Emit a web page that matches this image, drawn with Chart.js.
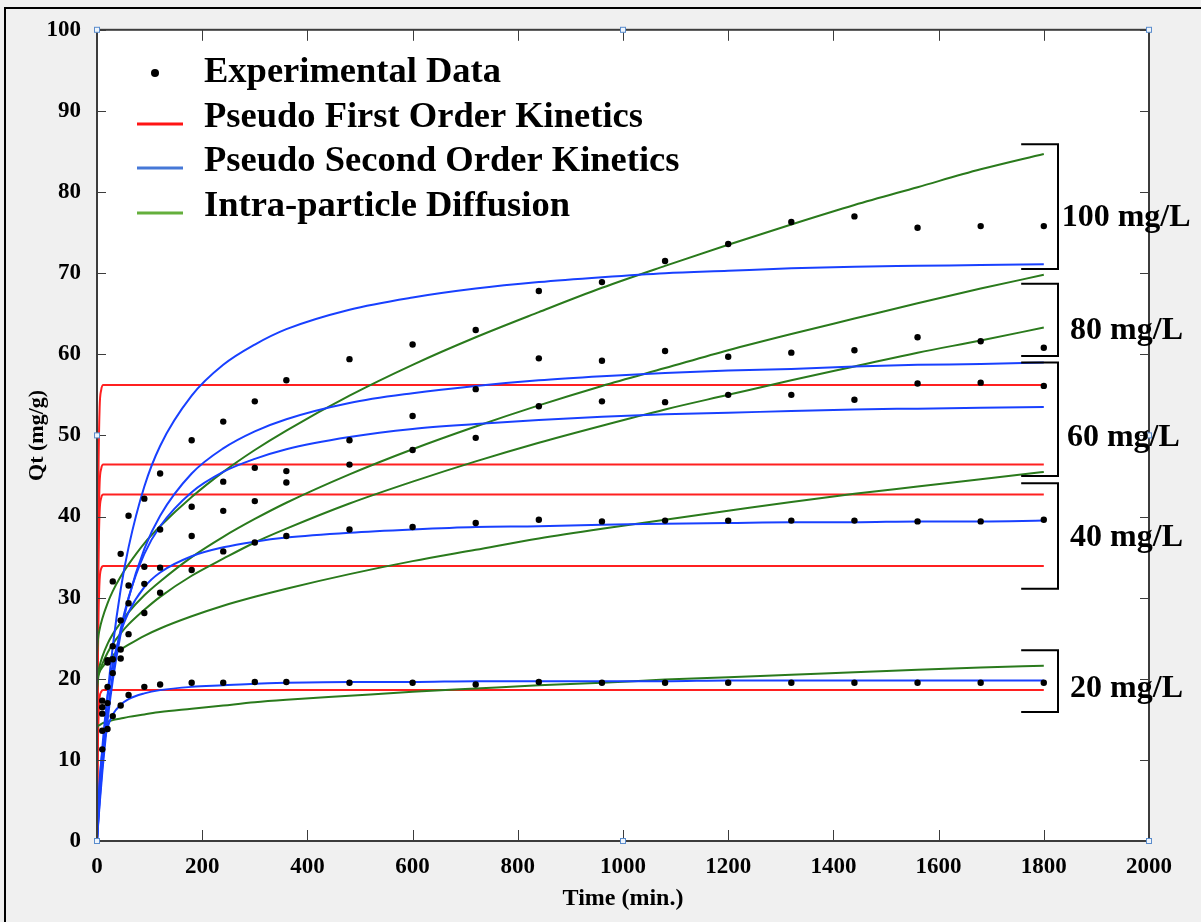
<!DOCTYPE html>
<html>
<head>
<meta charset="utf-8">
<script src="https://cdn.jsdelivr.net/npm/chart.js@4.4.1/dist/chart.umd.min.js"></script>
<style>
  html, body { margin: 0; padding: 0; background: #f0f0f0; }
  #wrap { width: 1201px; height: 922px; }
</style>
</head>
<body>
<div id="wrap"><canvas id="grafica" width="1201" height="922"></canvas></div>
<script>
// datos experimentales (tiempo en min, Qt en mg/g)
const tiempoExp = [10, 20, 30, 45, 60, 90, 120, 180, 240, 300, 360, 480, 600, 720, 840, 960, 1080, 1200, 1320, 1440, 1560, 1680, 1800];
const exp100 = [17.3, 22.3, 32.0, 35.4, 40.1, 42.2, 45.3, 49.4, 51.7, 54.2, 56.8, 59.4, 61.2, 63.0, 67.8, 68.9, 71.5, 73.6, 76.3, 77.0, 75.6, 75.8, 75.8];
const exp80  = [16.5, 22.0, 24.0, 27.2, 31.5, 33.8, 38.4, 41.2, 44.3, 46.0, 45.6, 49.4, 52.4, 55.7, 59.5, 59.2, 60.4, 59.7, 60.2, 60.5, 62.1, 61.6, 60.8];
const exp60  = [15.7, 19.0, 22.4, 23.6, 29.3, 31.7, 33.7, 37.6, 40.7, 41.9, 44.2, 46.4, 48.2, 49.7, 53.6, 54.2, 54.1, 55.0, 55.0, 54.4, 56.4, 56.5, 56.1];
const exp40  = [13.6, 17.0, 20.7, 22.5, 25.5, 28.1, 30.6, 33.4, 35.7, 36.8, 37.6, 38.4, 38.7, 39.2, 39.6, 39.4, 39.5, 39.5, 39.5, 39.5, 39.4, 39.4, 39.6];
const exp20  = [11.3, 13.8, 15.4, 16.7, 18.0, 19.0, 19.3, 19.5, 19.5, 19.6, 19.6, 19.5, 19.5, 19.3, 19.6, 19.5, 19.5, 19.5, 19.5, 19.5, 19.5, 19.5, 19.5];

// pseudo primer orden (sube casi vertical y se queda plano)
const tiempoPFO = [0, 1, 2, 3, 5, 8, 12, 1800];
const pfo100 = [0, 25.3, 39.3, 46.6, 53.4, 55.6, 56.2, 56.2];
const pfo80  = [0, 20.9, 32.5, 38.5, 44.1, 45.9, 46.4, 46.4];
const pfo60  = [0, 19.2, 29.9, 35.4, 40.6, 42.3, 42.7, 42.7];
const pfo40  = [0, 15.3, 23.7, 28.1, 32.2, 33.6, 33.9, 33.9];
const pfo20  = [0, 8.4, 13.0, 15.4, 17.7, 18.4, 18.6, 18.6];

// pseudo segundo orden y difusion intraparticula
const tiempoModelo = [0, 2, 5, 10, 20, 30, 45, 60, 90, 120, 180, 240, 300, 360, 480, 600, 720, 840, 960, 1080, 1200, 1320, 1440, 1560, 1680, 1800];
const pso100 = [0, 2.3, 5.5, 10.2, 17.9, 24.0, 31.0, 36.2, 43.7, 48.7, 54.9, 58.7, 61.2, 63.1, 65.5, 67.0, 68.1, 68.9, 69.5, 70.0, 70.3, 70.6, 70.8, 70.9, 71.0, 71.1];
const pso80  = [0, 1.9, 4.5, 8.4, 14.8, 19.8, 25.5, 29.9, 36.0, 40.1, 45.3, 48.4, 50.5, 52.0, 54.0, 55.2, 56.1, 56.8, 57.3, 57.7, 58.0, 58.2, 58.5, 58.7, 58.8, 59.0];
const pso60  = [0, 2.1, 5.0, 9.2, 15.7, 20.6, 26.1, 30.0, 35.4, 38.8, 43.0, 45.5, 47.1, 48.3, 49.8, 50.8, 51.4, 51.9, 52.3, 52.6, 52.8, 53.0, 53.2, 53.3, 53.4, 53.5];
const pso40  = [0, 3.0, 6.7, 11.4, 17.8, 21.8, 25.7, 28.2, 31.3, 33.1, 35.1, 36.2, 36.9, 37.4, 38.0, 38.4, 38.7, 38.8, 39.0, 39.1, 39.2, 39.3, 39.3, 39.4, 39.4, 39.5];
const pso20  = [0, 3.9, 7.5, 10.9, 14.0, 15.6, 16.8, 17.5, 18.2, 18.6, 19.0, 19.2, 19.4, 19.5, 19.6, 19.6, 19.7, 19.7, 19.7, 19.7, 19.8, 19.8, 19.8, 19.8, 19.8, 19.8];
const ipd100 = [22.8, 24.9, 26.1, 27.4, 29.3, 30.8, 32.6, 34.1, 36.7, 38.8, 42.4, 45.5, 48.2, 50.6, 54.9, 58.7, 62.1, 65.2, 68.2, 70.9, 73.5, 76.0, 78.4, 80.6, 82.8, 84.7];
const ipd80  = [18.9, 20.6, 21.6, 22.7, 24.3, 25.5, 26.9, 28.2, 30.3, 32.0, 35.0, 37.5, 39.7, 41.7, 45.2, 48.3, 51.1, 53.7, 56.1, 58.3, 60.5, 62.5, 64.4, 66.3, 68.1, 69.8];
const ipd60  = [18.5, 20.0, 20.9, 21.8, 23.2, 24.3, 25.6, 26.7, 28.5, 30.1, 32.7, 34.8, 36.8, 38.5, 41.6, 44.3, 46.8, 49.1, 51.2, 53.2, 55.0, 56.8, 58.5, 60.2, 61.7, 63.3];
const ipd40  = [19.5, 20.4, 20.9, 21.4, 22.2, 22.9, 23.6, 24.2, 25.3, 26.2, 27.7, 29.0, 30.1, 31.1, 32.9, 34.5, 35.9, 37.3, 38.5, 39.6, 40.7, 41.8, 42.8, 43.7, 44.6, 45.5];
const ipd20  = [13.9, 14.2, 14.3, 14.5, 14.7, 14.9, 15.1, 15.3, 15.6, 15.9, 16.3, 16.7, 17.1, 17.4, 17.9, 18.4, 18.8, 19.2, 19.5, 19.9, 20.2, 20.5, 20.8, 21.1, 21.4, 21.6];

const concentraciones = ['100 mg/L', '80 mg/L', '60 mg/L', '40 mg/L', '20 mg/L'];
const leyenda = ['Experimental Data', 'Pseudo First Order Kinetics', 'Pseudo Second Order Kinetics', 'Intra-particle Diffusion'];

const ROJO = 'rgb(255, 32, 32)';
const AZUL = 'rgb(24, 64, 255)';
const VERDE = 'rgb(42, 122, 28)';
const FUENTE = "'Liberation Serif', 'Times New Roman', serif";

const xy = (xs, ys) => xs.map((x, i) => ({ x: x, y: ys[i] }));

function linea(label, xs, ys, color) {
  return {
    label: label,
    data: xy(xs, ys),
    showLine: true,
    borderColor: color,
    backgroundColor: color,
    borderWidth: 2,
    pointRadius: 0,
    cubicInterpolationMode: 'monotone',
    fill: false
  };
}

const expAll = [exp100, exp80, exp60, exp40, exp20];
const pfoAll = [pfo100, pfo80, pfo60, pfo40, pfo20];
const psoAll = [pso100, pso80, pso60, pso40, pso20];
const ipdAll = [ipd100, ipd80, ipd60, ipd40, ipd20];

const datasets = [];
expAll.forEach((d, i) => datasets.push({
  label: 'Experimental ' + concentraciones[i],
  data: xy(tiempoExp, d),
  showLine: false,
  pointRadius: 3.2,
  pointHoverRadius: 3.2,
  pointBackgroundColor: '#000',
  pointBorderWidth: 0
}));
psoAll.forEach((d, i) => datasets.push(linea('PSO ' + concentraciones[i], tiempoModelo, d, AZUL)));
ipdAll.forEach((d, i) => datasets.push(linea('IPD ' + concentraciones[i], tiempoModelo, d, VERDE)));
pfoAll.forEach((d, i) => datasets.push(linea('PFO ' + concentraciones[i], tiempoPFO, d, ROJO)));

// llaves a la derecha: [y arriba, y abajo], y posicion del texto
const llaves = [
  { top: 85.9, bot: 70.5, ty: 76.8, tx: 1834 },
  { top: 68.7, bot: 59.8, ty: 62.9, tx: 1850 },
  { top: 59.0, bot: 45.0, ty: 49.7, tx: 1844 },
  { top: 44.1, bot: 31.1, ty: 37.4, tx: 1850 },
  { top: 23.5, bot: 15.9, ty: 18.8, tx: 1850 }
];

const decoracion = {
  id: 'decoracion',
  beforeDraw(chart) {
    const { ctx, chartArea: a } = chart;
    ctx.save();
    ctx.fillStyle = '#f0f0f0';
    ctx.fillRect(0, 0, chart.width, chart.height);
    ctx.fillStyle = '#ffffff';
    ctx.fillRect(a.left, a.top, a.right - a.left, a.bottom - a.top);
    ctx.strokeStyle = '#000';
    ctx.lineWidth = 2;
    ctx.beginPath();
    ctx.moveTo(5, chart.height);
    ctx.lineTo(5, 8);
    ctx.lineTo(chart.width, 8);
    ctx.stroke();
    ctx.restore();
  },
  afterDraw(chart) {
    const { ctx, chartArea: a, scales: { x, y } } = chart;
    ctx.save();
    // caja y marcas hacia dentro
    ctx.strokeStyle = '#3c3c3c';
    ctx.lineWidth = 2;
    ctx.strokeRect(a.left, a.top, a.right - a.left, a.bottom - a.top);
    ctx.lineWidth = 1;
    ctx.beginPath();
    for (let v = 0; v <= 2000; v += 200) {
      const px = Math.round(x.getPixelForValue(v)) + 0.5;
      ctx.moveTo(px, a.bottom); ctx.lineTo(px, a.bottom - 11);
      ctx.moveTo(px, a.top); ctx.lineTo(px, a.top + 11);
    }
    for (let v = 0; v <= 100; v += 10) {
      const py = Math.round(y.getPixelForValue(v)) + 0.5;
      ctx.moveTo(a.left, py); ctx.lineTo(a.left + 9, py);
      ctx.moveTo(a.right, py); ctx.lineTo(a.right - 9, py);
    }
    ctx.stroke();

    // cuadritos azules de seleccion
    const mx = (a.left + a.right) / 2, my = (a.top + a.bottom) / 2;
    const puntos = [[a.left, a.top], [mx, a.top], [a.right, a.top], [a.left, my], [a.right, my], [a.left, a.bottom], [mx, a.bottom], [a.right, a.bottom]];
    ctx.strokeStyle = '#5a8ccc';
    ctx.fillStyle = '#eef4fb';
    ctx.lineWidth = 1;
    puntos.forEach(p => {
      ctx.fillRect(p[0] - 2.5, p[1] - 2.5, 5, 5);
      ctx.strokeRect(p[0] - 2.5, p[1] - 2.5, 5, 5);
    });

    // llaves y etiquetas de concentracion
    ctx.strokeStyle = '#000';
    ctx.lineWidth = 2;
    ctx.fillStyle = '#000';
    ctx.font = 'bold 32px ' + FUENTE;
    ctx.textBaseline = 'middle';
    ctx.textAlign = 'left';
    const x0 = x.getPixelForValue(1757), x1 = x.getPixelForValue(1827);
    llaves.forEach((l, i) => {
      const yt = y.getPixelForValue(l.top), yb = y.getPixelForValue(l.bot);
      ctx.beginPath();
      ctx.moveTo(x0, yt); ctx.lineTo(x1, yt); ctx.lineTo(x1, yb); ctx.lineTo(x0, yb);
      ctx.stroke();
      ctx.fillText(concentraciones[i], x.getPixelForValue(l.tx), y.getPixelForValue(l.ty));
    });

    // leyenda
    ctx.font = 'bold 36.5px ' + FUENTE;
    const filas = [73, 118, 162, 207];
    ctx.beginPath();
    ctx.arc(155, filas[0], 4, 0, Math.PI * 2);
    ctx.fill();
    const colLey = ['rgb(255, 20, 20)', 'rgb(70, 120, 215)', 'rgb(100, 175, 60)'];
    ctx.lineWidth = 3;
    colLey.forEach((c, i) => {
      ctx.strokeStyle = c;
      ctx.beginPath();
      ctx.moveTo(137, filas[i + 1] + 6);
      ctx.lineTo(183, filas[i + 1] + 6);
      ctx.stroke();
    });
    leyenda.forEach((t, i) => ctx.fillText(t, 204, filas[i]));
    ctx.restore();
  }
};

const fuenteTicks = { family: FUENTE, size: 23, weight: 'bold' };

const config = {
  type: 'scatter',
  data: { datasets: datasets },
  options: {
    responsive: false,
    animation: false,
    layout: { padding: { top: 27, right: 52, left: 0, bottom: 0 } },
    plugins: { legend: { display: false }, tooltip: { enabled: false } },
    scales: {
      x: {
        type: 'linear', min: 0, max: 2000,
        ticks: { stepSize: 200, color: '#000', font: fuenteTicks, padding: 12, maxRotation: 0, callback: (v) => String(v) },
        grid: { display: false, drawTicks: false },
        border: { display: false },
        title: { display: true, text: 'Time (min.)', color: '#000', font: { family: FUENTE, size: 24, weight: 'bold' }, padding: { top: 0, bottom: 9 } },
        afterFit(s) { s.height = 81; }
      },
      y: {
        type: 'linear', min: 0, max: 100,
        ticks: { stepSize: 10, color: '#000', font: fuenteTicks, padding: 16, callback: (v) => String(v) },
        grid: { display: false, drawTicks: false },
        border: { display: false },
        title: { display: true, text: 'Qt (mg/g)', color: '#000', font: { family: FUENTE, size: 22, weight: 'bold' }, padding: { top: 24, bottom: 0 } },
        afterFit(s) { s.width = 97; }
      }
    }
  },
  plugins: [decoracion]
};

const myChart = new Chart(document.getElementById('grafica'), config);
</script>
</body>
</html>
